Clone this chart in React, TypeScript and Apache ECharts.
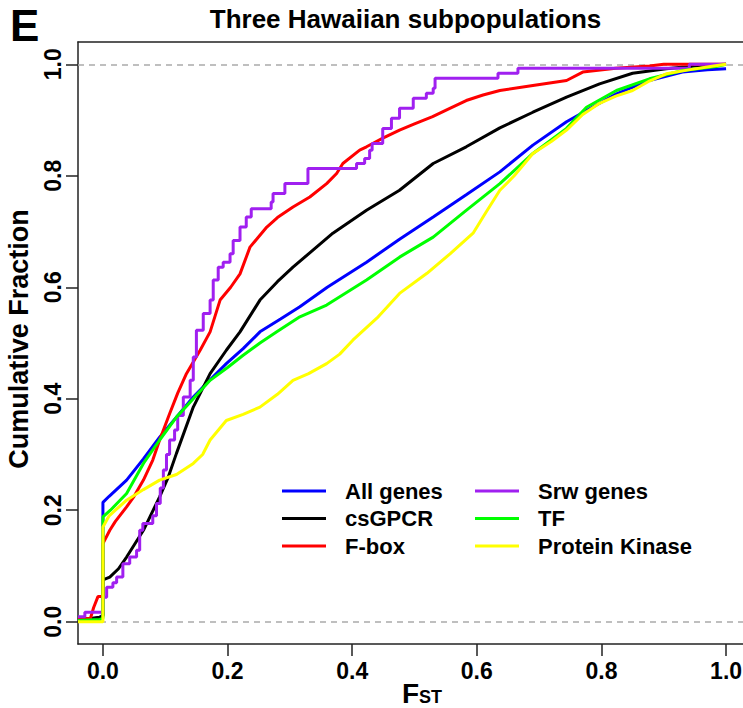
import { useEffect, useRef } from "react";
import * as echarts from "echarts";

const FONT = '"Liberation Sans", Arial, Helvetica, sans-serif';

const seriesNames = ["All genes", "csGPCR", "F-box", "Srw genes", "TF", "Protein Kinase"];
const seriesColors = ["#0000FF", "#000000", "#FF0000", "#A020F0", "#00FF00", "#FFFF00"];
const legendLeftColumn = ["All genes", "csGPCR", "F-box"];
const legendRightColumn = ["Srw genes", "TF", "Protein Kinase"];

const xTicks = [0, 0.2, 0.4, 0.6, 0.8, 1.0];
const yTicks = [0, 0.2, 0.4, 0.6, 0.8, 1.0];
const referenceLevels = [0, 1];

// Cumulative fraction of genes at each FST value: [FST, fraction]
const allGenes = [
  [-0.04, 0.003], [-0.02, 0.004], [-0.005, 0.008], [0, 0.012], [0, 0.214], [0.01, 0.225],
  [0.038, 0.254], [0.065, 0.292], [0.091, 0.331], [0.118, 0.367], [0.145, 0.403],
  [0.172, 0.434], [0.198, 0.463], [0.225, 0.49], [0.252, 0.52], [0.285, 0.543],
  [0.316, 0.565], [0.36, 0.6], [0.423, 0.645], [0.476, 0.686], [0.53, 0.726],
  [0.583, 0.766], [0.637, 0.807], [0.69, 0.855], [0.744, 0.897], [0.776, 0.917],
  [0.824, 0.947], [0.877, 0.971], [0.93, 0.986], [0.97, 0.99], [1.0, 0.992],
];

const csGPCR = [
  [-0.04, 0.003], [-0.005, 0.008], [0, 0.01], [0, 0.075], [0.011, 0.08], [0.025, 0.095],
  [0.038, 0.116], [0.065, 0.164], [0.091, 0.224], [0.105, 0.26], [0.118, 0.302],
  [0.145, 0.385], [0.172, 0.445], [0.198, 0.487], [0.22, 0.52], [0.252, 0.577],
  [0.28, 0.61], [0.305, 0.636], [0.33, 0.66], [0.369, 0.697], [0.423, 0.738],
  [0.476, 0.774], [0.53, 0.822], [0.583, 0.852], [0.637, 0.886], [0.69, 0.914],
  [0.744, 0.941], [0.797, 0.965], [0.85, 0.984], [0.904, 0.992], [0.957, 0.998], [1.0, 1.0],
];

const fBox = [
  [-0.04, 0.004], [-0.02, 0.006], [-0.015, 0.025], [-0.008, 0.045], [0, 0.045], [0, 0.14],
  [0.011, 0.164], [0.02, 0.18], [0.038, 0.206], [0.05, 0.225], [0.065, 0.254],
  [0.08, 0.29], [0.091, 0.326], [0.107, 0.373], [0.12, 0.41], [0.134, 0.445],
  [0.156, 0.487], [0.172, 0.52], [0.188, 0.577], [0.205, 0.6], [0.22, 0.624],
  [0.236, 0.672], [0.263, 0.708], [0.28, 0.725], [0.305, 0.744], [0.332, 0.762],
  [0.359, 0.786], [0.375, 0.804], [0.385, 0.822], [0.412, 0.846], [0.423, 0.852],
  [0.45, 0.868], [0.476, 0.882], [0.5, 0.893], [0.529, 0.906], [0.555, 0.92],
  [0.583, 0.935], [0.61, 0.945], [0.637, 0.953], [0.69, 0.962], [0.744, 0.971],
  [0.77, 0.986], [0.823, 0.993], [0.877, 0.997], [0.9, 1.0], [1.0, 1.0],
];

const srwGenes = [
  [-0.04, 0.009], [-0.029, 0.017], [0, 0.044], [0.006, 0.062], [0.016, 0.07],
  [0.022, 0.08], [0.032, 0.104], [0.043, 0.116], [0.054, 0.128], [0.059, 0.164],
  [0.064, 0.176], [0.08, 0.19], [0.086, 0.212], [0.092, 0.24], [0.097, 0.272],
  [0.102, 0.3], [0.107, 0.326], [0.115, 0.344], [0.12, 0.37], [0.129, 0.403],
  [0.14, 0.433], [0.145, 0.475], [0.15, 0.523], [0.161, 0.553], [0.172, 0.577],
  [0.177, 0.613], [0.185, 0.636], [0.193, 0.645], [0.204, 0.66], [0.209, 0.684],
  [0.22, 0.708], [0.23, 0.726], [0.238, 0.741], [0.27, 0.753], [0.273, 0.768],
  [0.292, 0.786], [0.329, 0.813], [0.407, 0.822], [0.42, 0.831], [0.428, 0.846],
  [0.432, 0.858], [0.449, 0.885], [0.463, 0.903], [0.476, 0.921], [0.498, 0.939],
  [0.519, 0.948], [0.53, 0.957], [0.533, 0.975], [0.634, 0.984], [0.666, 0.993],
  [0.941, 1.0], [1.0, 1.0],
];

const tf = [
  [-0.04, 0.002], [-0.005, 0.004], [0, 0.006], [0, 0.188], [0.012, 0.2],
  [0.038, 0.23], [0.065, 0.284], [0.091, 0.326], [0.118, 0.367], [0.145, 0.4],
  [0.172, 0.433], [0.2, 0.456], [0.225, 0.478], [0.252, 0.5], [0.279, 0.52],
  [0.316, 0.547], [0.359, 0.568], [0.423, 0.613], [0.476, 0.654], [0.53, 0.69],
  [0.583, 0.738], [0.637, 0.786], [0.69, 0.84], [0.744, 0.885], [0.776, 0.923],
  [0.824, 0.953], [0.877, 0.974], [0.931, 0.989], [0.984, 0.996], [1.0, 1.0],
];

const proteinKinase = [
  [-0.04, 0.0], [0, 0.0], [0, 0.17], [0.01, 0.19], [0.02, 0.2], [0.038, 0.218],
  [0.065, 0.237], [0.091, 0.254], [0.118, 0.264], [0.145, 0.284], [0.16, 0.3],
  [0.172, 0.326], [0.198, 0.361], [0.225, 0.372], [0.252, 0.385], [0.28, 0.408],
  [0.305, 0.433], [0.33, 0.445], [0.359, 0.463], [0.38, 0.48], [0.401, 0.505],
  [0.44, 0.545], [0.476, 0.589], [0.52, 0.625], [0.557, 0.66], [0.594, 0.697],
  [0.615, 0.735], [0.637, 0.774], [0.66, 0.8], [0.69, 0.84], [0.72, 0.862],
  [0.744, 0.882], [0.77, 0.91], [0.797, 0.93], [0.823, 0.943], [0.85, 0.953],
  [0.877, 0.97], [0.904, 0.983], [0.94, 0.99], [0.98, 0.997], [1.0, 1.0],
];

const seriesData = [allGenes, csGPCR, fBox, srwGenes, tf, proteinKinase];
const steppedSeries = ["Srw genes"];

export default function App() {
  const ref = useRef<HTMLDivElement>(null);

  useEffect(() => {
    document.body.style.margin = "0";
    if (!ref.current) return;
    const chart = echarts.init(ref.current, undefined, { renderer: "svg" });

    const legendBase = {
      orient: "vertical" as const,
      top: 480,
      padding: 0,
      icon: "rect",
      itemWidth: 44,
      itemHeight: 3,
      itemGap: 5.5,
      selectedMode: false,
      textStyle: {
        fontFamily: FONT,
        fontWeight: "bold" as const,
        fontSize: 22,
        lineHeight: 22,
        color: "#000",
        padding: [0, 0, 0, 14],
      },
    };

    const frameLine = { show: true, onZero: false, lineStyle: { color: "#222", width: 1.5 } };

    const lineSeries = seriesNames.map((name, i) => ({
      name,
      type: "line",
      xAxisIndex: 0,
      yAxisIndex: 0,
      data: seriesData[i],
      color: seriesColors[i],
      showSymbol: false,
      symbol: "none",
      step: steppedSeries.includes(name) ? "end" : false,
      lineStyle: { width: 3, color: seriesColors[i] },
      z: 3 + i,
    }));

    chart.setOption({
      animation: false,
      backgroundColor: "#fff",
      textStyle: { fontFamily: FONT },
      grid: {
        show: false,
        left: 78,
        top: 42,
        width: 673,
        height: 602,
        outerBoundsMode: "none",
      },
      legend: [
        { ...legendBase, left: 282, data: legendLeftColumn },
        { ...legendBase, left: 475, data: legendRightColumn },
      ],
      xAxis: [
        {
          type: "value",
          position: "bottom",
          min: -0.04,
          max: 1.04,
          splitLine: { show: false },
          axisLine: frameLine,
          axisTick: {
            show: true,
            inside: false,
            length: 12,
            customValues: xTicks,
            lineStyle: { color: "#222", width: 1.5 },
          },
          axisLabel: {
            customValues: xTicks,
            formatter: (v: number) => v.toFixed(1),
            fontFamily: FONT,
            fontWeight: "bold",
            fontSize: 23,
            color: "#000",
            margin: 15,
          },
        },
        {
          type: "value",
          position: "top",
          min: -0.04,
          max: 1.04,
          splitLine: { show: false },
          axisLine: frameLine,
          axisTick: { show: false },
          axisLabel: { show: false },
        },
      ],
      yAxis: [
        {
          type: "value",
          position: "left",
          min: -0.04,
          max: 1.04,
          splitLine: { show: false },
          axisLine: frameLine,
          axisTick: {
            show: true,
            inside: false,
            length: 12,
            customValues: yTicks,
            lineStyle: { color: "#222", width: 1.5 },
          },
          axisLabel: {
            customValues: yTicks,
            formatter: (v: number) => v.toFixed(1),
            rotate: 90,
            fontFamily: FONT,
            fontWeight: "bold",
            fontSize: 23,
            color: "#000",
            margin: 14,
          },
        },
        {
          type: "value",
          position: "right",
          min: -0.04,
          max: 1.04,
          splitLine: { show: false },
          axisLine: frameLine,
          axisTick: { show: false },
          axisLabel: { show: false },
        },
      ],
      graphic: [
        {
          type: "text",
          x: 10,
          y: 25,
          style: {
            text: "E",
            font: `bold 44px ${FONT}`,
            fill: "#000",
            align: "left",
            verticalAlign: "middle",
          },
        },
        {
          type: "text",
          x: 405.5,
          y: 19,
          style: {
            text: "Three Hawaiian subpopulations",
            font: `bold 26px ${FONT}`,
            fill: "#000",
            align: "center",
            verticalAlign: "middle",
          },
        },
        {
          type: "text",
          x: 18.5,
          y: 339,
          rotation: Math.PI / 2,
          style: {
            text: "Cumulative Fraction",
            font: `bold 27px ${FONT}`,
            fill: "#000",
            align: "center",
            verticalAlign: "middle",
          },
        },
        {
          type: "text",
          x: 422,
          y: 693.5,
          style: {
            text: "{f|F}{s|ST}",
            align: "center",
            verticalAlign: "middle",
            fill: "#000",
            rich: {
              f: { fontFamily: FONT, fontWeight: "bold", fontSize: 28, lineHeight: 28, verticalAlign: "bottom" },
              s: { fontFamily: FONT, fontWeight: "bold", fontSize: 18, lineHeight: 18, verticalAlign: "bottom", padding: [0, 0, 2, 0] },
            },
          },
        },
      ],
      series: [
        {
          name: "reference levels",
          type: "line",
          xAxisIndex: 0,
          yAxisIndex: 0,
          data: [],
          z: 1,
          markLine: {
            silent: true,
            symbol: ["none", "none"],
            label: { show: false },
            lineStyle: { color: "#aaaaaa", type: [6, 5], width: 1.5 },
            data: referenceLevels.map((v) => ({ yAxis: v })),
          },
        },
        ...lineSeries,
      ],
    });

    return () => chart.dispose();
  }, []);

  return (
    <div style={{ width: 743, height: 708, overflow: "hidden" }}>
      <div ref={ref} style={{ width: 760, height: 708 }} />
    </div>
  );
}
